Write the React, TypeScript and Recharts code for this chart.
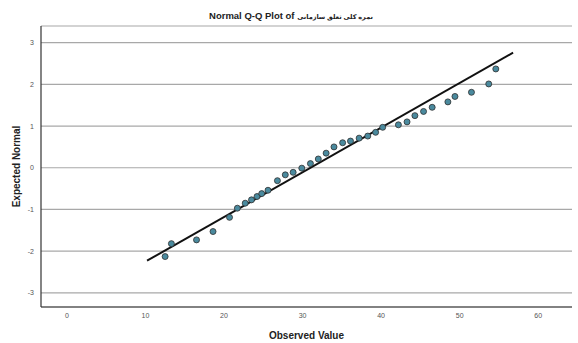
import React from 'react';
import { ScatterChart, Scatter, XAxis, YAxis, CartesianGrid, ReferenceLine, Label } from 'recharts';

const titleLatin = 'Normal Q-Q Plot of';
const titlePersian = 'نمره کلی تعلق سازمانی';
const xLabel = 'Observed Value';
const yLabel = 'Expected Normal';

const xTicks = [0, 10, 20, 30, 40, 50, 60];
const yTicks = [-3, -2, -1, 0, 1, 2, 3];

const observedValues = [12.5, 13.3, 16.5, 18.6, 20.7, 21.7, 22.7, 23.5, 24.2, 24.8, 25.6, 26.8, 27.8, 28.8, 29.9, 31.0, 32.0, 33.0, 34.0, 35.1, 36.1, 37.2, 38.3, 39.3, 40.2, 42.2, 43.3, 44.3, 45.4, 46.5, 48.5, 49.4, 51.5, 53.7, 54.6];
const expectedNormal = [-2.13, -1.82, -1.73, -1.53, -1.19, -0.97, -0.85, -0.77, -0.69, -0.62, -0.54, -0.31, -0.17, -0.11, -0.01, 0.10, 0.21, 0.35, 0.50, 0.60, 0.64, 0.71, 0.76, 0.85, 0.97, 1.03, 1.10, 1.25, 1.35, 1.45, 1.58, 1.71, 1.81, 2.01, 2.37];

const lineX = [10.2, 56.8];
const lineY = [-2.23, 2.76];

const points = observedValues.map((x, i) => ({ x, y: expectedNormal[i] }));

const FONT = 'Arial, "Liberation Sans", "DejaVu Sans", sans-serif';

const Dot = (props: any) => {
  const { cx, cy } = props;
  if (cx == null || cy == null) return null;
  return <circle cx={cx} cy={cy} r={3} fill="#4a8a9e" stroke="#2e2e2e" strokeWidth={0.8} />;
};

export default function App() {
  return (
    <div style={{ position: 'absolute', left: 0, top: 0, width: 578, height: 343, background: '#fff' }}>
      <div
        style={{
          position: 'absolute',
          left: 0,
          top: 10,
          width: 582,
          textAlign: 'center',
          fontFamily: FONT,
          fontWeight: 'bold',
          fontSize: 9.5,
          color: '#222',
          direction: 'ltr',
          lineHeight: '12px',
        }}
      >
        <span>{titleLatin} </span>
        <span style={{ unicodeBidi: 'isolate' as any, direction: 'rtl', fontSize: 6.5 }}>{titlePersian}</span>
      </div>
      <ScatterChart width={578} height={343} margin={{ top: 26, right: 6, left: 0, bottom: 0 }}>
        <CartesianGrid vertical={false} stroke="#a8a8a8" strokeWidth={1.2} />
        <XAxis
          type="number"
          dataKey="x"
          domain={[-3.3, 64.3]}
          ticks={xTicks}
          height={36}
          tickLine={false}
          tickSize={0}
          tickMargin={6}
          axisLine={{ stroke: '#333', strokeWidth: 1.2 }}
          tick={{ fontSize: 7, fill: '#555', fontFamily: FONT }}
          allowDataOverflow
        >
          <Label value={xLabel} position="insideBottom" offset={4} style={{ fontSize: 10, fontWeight: 'bold', fill: '#222', fontFamily: FONT }} />
        </XAxis>
        <YAxis
          type="number"
          dataKey="y"
          domain={[-3.34, 3.4]}
          ticks={yTicks}
          width={41}
          tickLine={false}
          tickSize={0}
          tickMargin={7}
          axisLine={{ stroke: '#333', strokeWidth: 1.2 }}
          tick={{ fontSize: 7, fill: '#555', fontFamily: FONT }}
          allowDataOverflow
        >
          <Label value={yLabel} angle={-90} position="insideLeft" offset={16} style={{ fontSize: 10, fontWeight: 'bold', fill: '#222', fontFamily: FONT, textAnchor: 'middle' }} />
        </YAxis>
        <Scatter data={points} shape={<Dot />} isAnimationActive={false} />
        <ReferenceLine
          segment={[{ x: lineX[0], y: lineY[0] }, { x: lineX[1], y: lineY[1] }]}
          stroke="#111"
          strokeWidth={2}
          ifOverflow="visible"
        />
      </ScatterChart>
    </div>
  );
}
